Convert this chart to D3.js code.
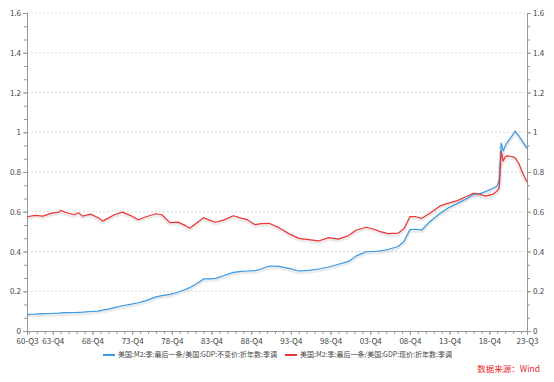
<!DOCTYPE html>
<html>
<head>
<meta charset="utf-8">
<script src="https://cdn.jsdelivr.net/npm/d3@7"></script>
<style>
  body { margin: 0; background: #fff; }
  text { font-family: "Noto Sans CJK SC", "Noto Sans", sans-serif; }
</style>
</head>
<body>
<div id="chart"></div>
<script>
const quarters = [
  "1960Q3","1961Q3","1962Q3","1963Q3","1964Q3","1964Q4","1965Q3","1966Q3","1967Q1","1967Q3",
  "1968Q3","1969Q3","1970Q1","1970Q4","1971Q3","1972Q3","1973Q3","1974Q3","1975Q3","1976Q4",
  "1977Q3","1978Q3","1979Q3","1980Q3","1981Q1","1981Q4","1982Q4","1983Q3","1984Q2","1985Q2",
  "1986Q3","1987Q3","1988Q2","1989Q2","1990Q1","1991Q1","1992Q2","1993Q3","1994Q4","1996Q1",
  "1997Q2","1998Q3","1999Q4","2001Q1","2002Q1","2003Q2","2004Q2","2005Q1","2006Q1","2007Q2",
  "2008Q1","2008Q4","2009Q3","2010Q2","2011Q2","2012Q3","2013Q3","2014Q4","2016Q1","2016Q4",
  "2017Q3","2018Q2","2019Q2","2019Q4","2020Q1","2020Q2","2020Q3","2020Q4","2021Q1","2021Q3",
  "2021Q4","2022Q1","2022Q3","2023Q1","2023Q3"
];

// M2 / real GDP
const realRatio = [
  0.084,0.085,0.087,0.088,0.090,0.091,0.092,0.093,0.094,0.095,
  0.098,0.100,0.105,0.110,0.118,0.127,0.134,0.142,0.153,0.172,
  0.178,0.184,0.195,0.210,0.218,0.235,0.262,0.262,0.265,0.278,
  0.295,0.300,0.302,0.304,0.312,0.327,0.325,0.315,0.302,0.305,
  0.312,0.322,0.336,0.350,0.378,0.399,0.400,0.403,0.410,0.425,
  0.450,0.510,0.512,0.508,0.550,0.590,0.618,0.642,0.668,0.688,
  0.690,0.701,0.718,0.730,0.760,0.945,0.905,0.930,0.948,0.975,
  0.990,1.005,0.980,0.950,0.920
];

// M2 / nominal GDP
const nominalRatio = [
  0.575,0.582,0.578,0.592,0.598,0.607,0.595,0.585,0.595,0.578,
  0.588,0.570,0.553,0.568,0.585,0.598,0.582,0.560,0.575,0.590,
  0.585,0.545,0.548,0.530,0.517,0.540,0.570,0.558,0.547,0.558,
  0.580,0.568,0.560,0.535,0.540,0.542,0.520,0.490,0.466,0.460,
  0.453,0.470,0.462,0.480,0.508,0.522,0.512,0.500,0.490,0.492,
  0.515,0.575,0.575,0.567,0.592,0.628,0.642,0.656,0.679,0.693,
  0.689,0.679,0.689,0.705,0.720,0.905,0.855,0.875,0.882,0.878,
  0.876,0.872,0.840,0.790,0.751
];

const xTickLabels = ["60-Q3","63-Q4","68-Q4","73-Q4","78-Q4","83-Q4","88-Q4","93-Q4","98-Q4","03-Q4","08-Q4","13-Q4","18-Q4","23-Q3"];
const yTicks = [0, 0.2, 0.4, 0.6, 0.8, 1, 1.2, 1.4, 1.6];
const seriesNames = ["美国:M2:季:最后一条/美国:GDP:不变价:折年数:季调", "美国:M2:季:最后一条/美国:GDP:现价:折年数:季调"];
const colors = ["#3b9be6", "#f03535"];

const width = 554, height = 382;
const margin = { top: 13, left: 27, right: 27, bottom: 51 };

// "1960Q3" -> 1960.5, "63-Q4" -> 1963.75
const qToT = (s) => +s.slice(0, 4) + (+s.slice(5) - 1) / 4;
const labelToT = (s) => {
  const yy = +s.slice(0, 2);
  return (yy >= 50 ? 1900 + yy : 2000 + yy) + (+s.slice(4) - 1) / 4;
};

const svg = d3.select("#chart").append("svg")
  .attr("width", width).attr("height", height);

const x = d3.scaleLinear()
  .domain([qToT("1960Q3"), qToT("2023Q3")])
  .range([margin.left, width - margin.right]);

const y = d3.scaleLinear()
  .domain([0, 1.6])
  .range([height - margin.bottom, margin.top]);

// grid
svg.append("g").selectAll("line").data(yTicks.slice(1)).enter().append("line")
  .attr("x1", margin.left).attr("x2", width - margin.right)
  .attr("y1", (d) => y(d)).attr("y2", (d) => y(d))
  .attr("stroke", "#d9d9d9").attr("stroke-dasharray", "2,2");

// y axes
const minorY = d3.range(0, 1.6001, 0.2 / 3);
const styleAxis = (g) => {
  g.select(".domain").attr("stroke", "#999");
  g.selectAll(".tick line").attr("stroke", "#999");
  g.selectAll("text").attr("fill", "#444").style("font-size", "8px");
};

svg.append("g")
  .attr("transform", `translate(${margin.left},0)`)
  .call(d3.axisLeft(y).tickValues(minorY).tickSize(3).tickFormat(""))
  .call(styleAxis);
svg.append("g")
  .attr("transform", `translate(${margin.left},0)`)
  .call(d3.axisLeft(y).tickValues(yTicks).tickSize(4).tickPadding(2).tickFormat(d3.format("~g")))
  .call(styleAxis);

svg.append("g")
  .attr("transform", `translate(${width - margin.right},0)`)
  .call(d3.axisRight(y).tickValues(minorY).tickSize(3).tickFormat(""))
  .call(styleAxis);
svg.append("g")
  .attr("transform", `translate(${width - margin.right},0)`)
  .call(d3.axisRight(y).tickValues(yTicks).tickSize(4).tickPadding(2).tickFormat(d3.format("~g")))
  .call(styleAxis);

// x axis
const yearTicks = d3.range(1960.75, 2023.6, 1);
svg.append("g")
  .attr("transform", `translate(0,${height - margin.bottom})`)
  .call(d3.axisBottom(x).tickValues(yearTicks).tickSize(3).tickFormat(""))
  .call(styleAxis);
svg.append("g")
  .attr("transform", `translate(0,${height - margin.bottom})`)
  .call(d3.axisBottom(x).tickValues(xTickLabels.map(labelToT)).tickSize(4).tickPadding(3)
    .tickFormat((d, i) => xTickLabels[i]))
  .call(styleAxis);

// lines
const series = [realRatio, nominalRatio];
const line = d3.line()
  .x((d, i) => x(qToT(quarters[i])))
  .y((d) => y(d));

series.forEach((vals) => {
  svg.append("path")
    .datum(vals)
    .attr("fill", "none")
    .attr("stroke", "#000")
    .attr("stroke-opacity", 0.08)
    .attr("stroke-width", 3.5)
    .attr("transform", "translate(0,1.5)")
    .attr("d", line);
});
series.forEach((vals, k) => {
  svg.append("path")
    .datum(vals)
    .attr("fill", "none")
    .attr("stroke", colors[k])
    .attr("stroke-width", 1.2)
    .attr("stroke-linejoin", "round")
    .attr("d", line);
});

// legend
const legendX = [103, 285];
seriesNames.forEach((name, k) => {
  const g = svg.append("g").attr("transform", `translate(${legendX[k]},355)`);
  g.append("line").attr("x1", 0).attr("x2", 12).attr("y1", 0).attr("y2", 0)
    .attr("stroke", colors[k]).attr("stroke-width", 2);
  g.append("text").attr("x", 15).attr("y", 0).attr("dy", "0.35em")
    .attr("fill", "#444").style("font-size", "7px").text(name);
});

svg.append("text")
  .attr("x", 540).attr("y", 372)
  .attr("text-anchor", "end")
  .attr("fill", "#e8262b")
  .style("font-size", "8.5px")
  .text("数据来源：Wind");
</script>
</body>
</html>
